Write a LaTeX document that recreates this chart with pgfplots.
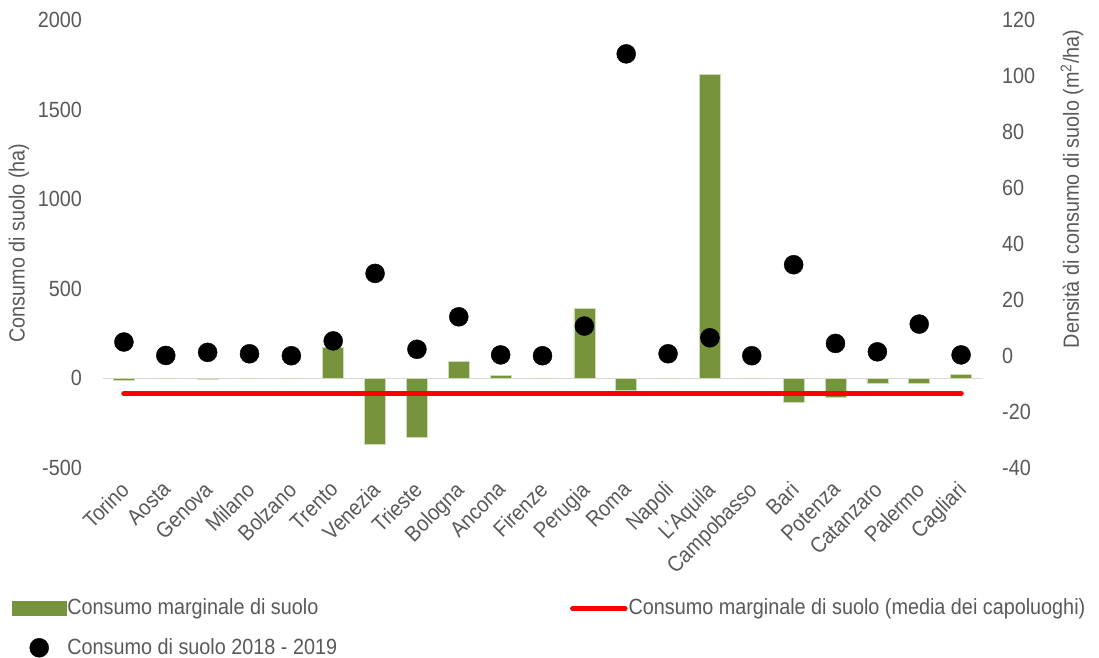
\documentclass[border=0pt]{standalone}
\usepackage{pgfplots}
\pgfplotsset{compat=1.18}
\usepackage{fontspec}
\setmainfont{Liberation Sans}[FakeStretch=0.9]
\definecolor{barcol}{RGB}{119,147,60}
\definecolor{txt}{RGB}{89,89,89}
\definecolor{zl}{RGB}{217,217,217}
\begin{document}
\fontsize{22}{26}\selectfont
\begin{tikzpicture}[x=1pt,y=1pt]
\useasboundingbox (0,0) rectangle (1099,657);
\pgfplotsset{
  base/.style={
    at={(103pt,189pt)}, anchor=south west,
    scale only axis, width=879pt, height=448pt,
    xmin=-0.5, xmax=20.5,
    axis line style={draw=none},
    major tick length=0pt,
    tick label style={text=txt},
    /pgf/number format/assume math mode=true,
    /pgf/number format/set thousands separator={},
    clip=false,
  }
}
\begin{axis}[base,
  ymin=-500, ymax=2000, ytick={-500,0,...,2000},
  xtick={0,...,20},
  xticklabels={Torino,Aosta,Genova,Milano,Bolzano,Trento,Venezia,Trieste,Bologna,Ancona,Firenze,Perugia,Roma,Napoli,L'Aquila,Campobasso,Bari,Potenza,Catanzaro,Palermo,Cagliari},
  xticklabel style={rotate=45, anchor=north east, inner sep=0pt, yshift=-5.2pt, xshift=-12pt},
  yticklabel style={anchor=east, inner sep=0pt, xshift=-21pt},
]
\addplot[zl, line width=1.5pt, forget plot] coordinates {(-0.5,0) (20.5,0)};
\addplot[ybar, bar width=21pt, fill=barcol, draw=barcol!35!white, line width=0.6pt, forget plot] coordinates {
(0,-8) (1,0) (2,-6) (3,0) (4,0) (5,175) (6,-370) (7,-331) (8,97) (9,17) (10,0)
(11,389) (12,-67) (13,0) (14,1695) (15,0) (16,-136) (17,-104) (18,-26) (19,-26) (20,22)};
\addplot[red, line width=5.5pt, line cap=round, forget plot] coordinates {(0,-85) (20,-85)};
\end{axis}
\begin{axis}[base,
  ymin=-40, ymax=120, ytick={-40,-20,...,120},
  xtick=\empty,
  yticklabel pos=right,
  yticklabel style={anchor=west, inner sep=0pt, xshift=20pt},
  legend columns=2,
  legend cell align=left,
  legend style={at={(-0.1035,-0.29)}, anchor=north west, draw=none, fill=none,
    inner sep=0pt, outer sep=0pt, row sep=18pt, text=txt,
    nodes={inner sep=1pt},
    /tikz/column 2/.style={column sep=232pt}},
]
\addlegendimage{legend image code/.code={\fill[barcol] (0pt,-7pt) rectangle (54pt,7pt);}}
\addlegendentry{Consumo marginale di suolo}
\addlegendimage{legend image code/.code={\draw[red, line width=5.5pt, line cap=round] (2pt,0pt) -- (54pt,0pt);}}
\addlegendentry{Consumo marginale di suolo (media dei capoluoghi)}
\addplot[only marks, mark=*, mark size=9.5pt, mark options={fill=black, draw=black},
  legend image code/.code={\fill[black] (27pt,0pt) circle (9.5pt); \path[draw=none,fill=none] (0pt,0pt) rectangle (54pt,0.1pt);}] coordinates {
(0,5) (1,0.2) (2,1.3) (3,0.8) (4,0.1) (5,5.4) (6,29.5) (7,2.4) (8,14) (9,0.4) (10,0.1)
(11,10.7) (12,107.9) (13,0.8) (14,6.5) (15,0.1) (16,32.6) (17,4.5) (18,1.5) (19,11.4) (20,0.4)};
\addlegendentry{Consumo di suolo 2018 - 2019}
\end{axis}
\node[rotate=90, text=txt] at (19,414) {Consumo di suolo (ha)};
\node[rotate=90, text=txt] at (1072,468) {Densità di consumo di suolo (m\textsuperscript{2}/ha)};
\end{tikzpicture}
\end{document}
